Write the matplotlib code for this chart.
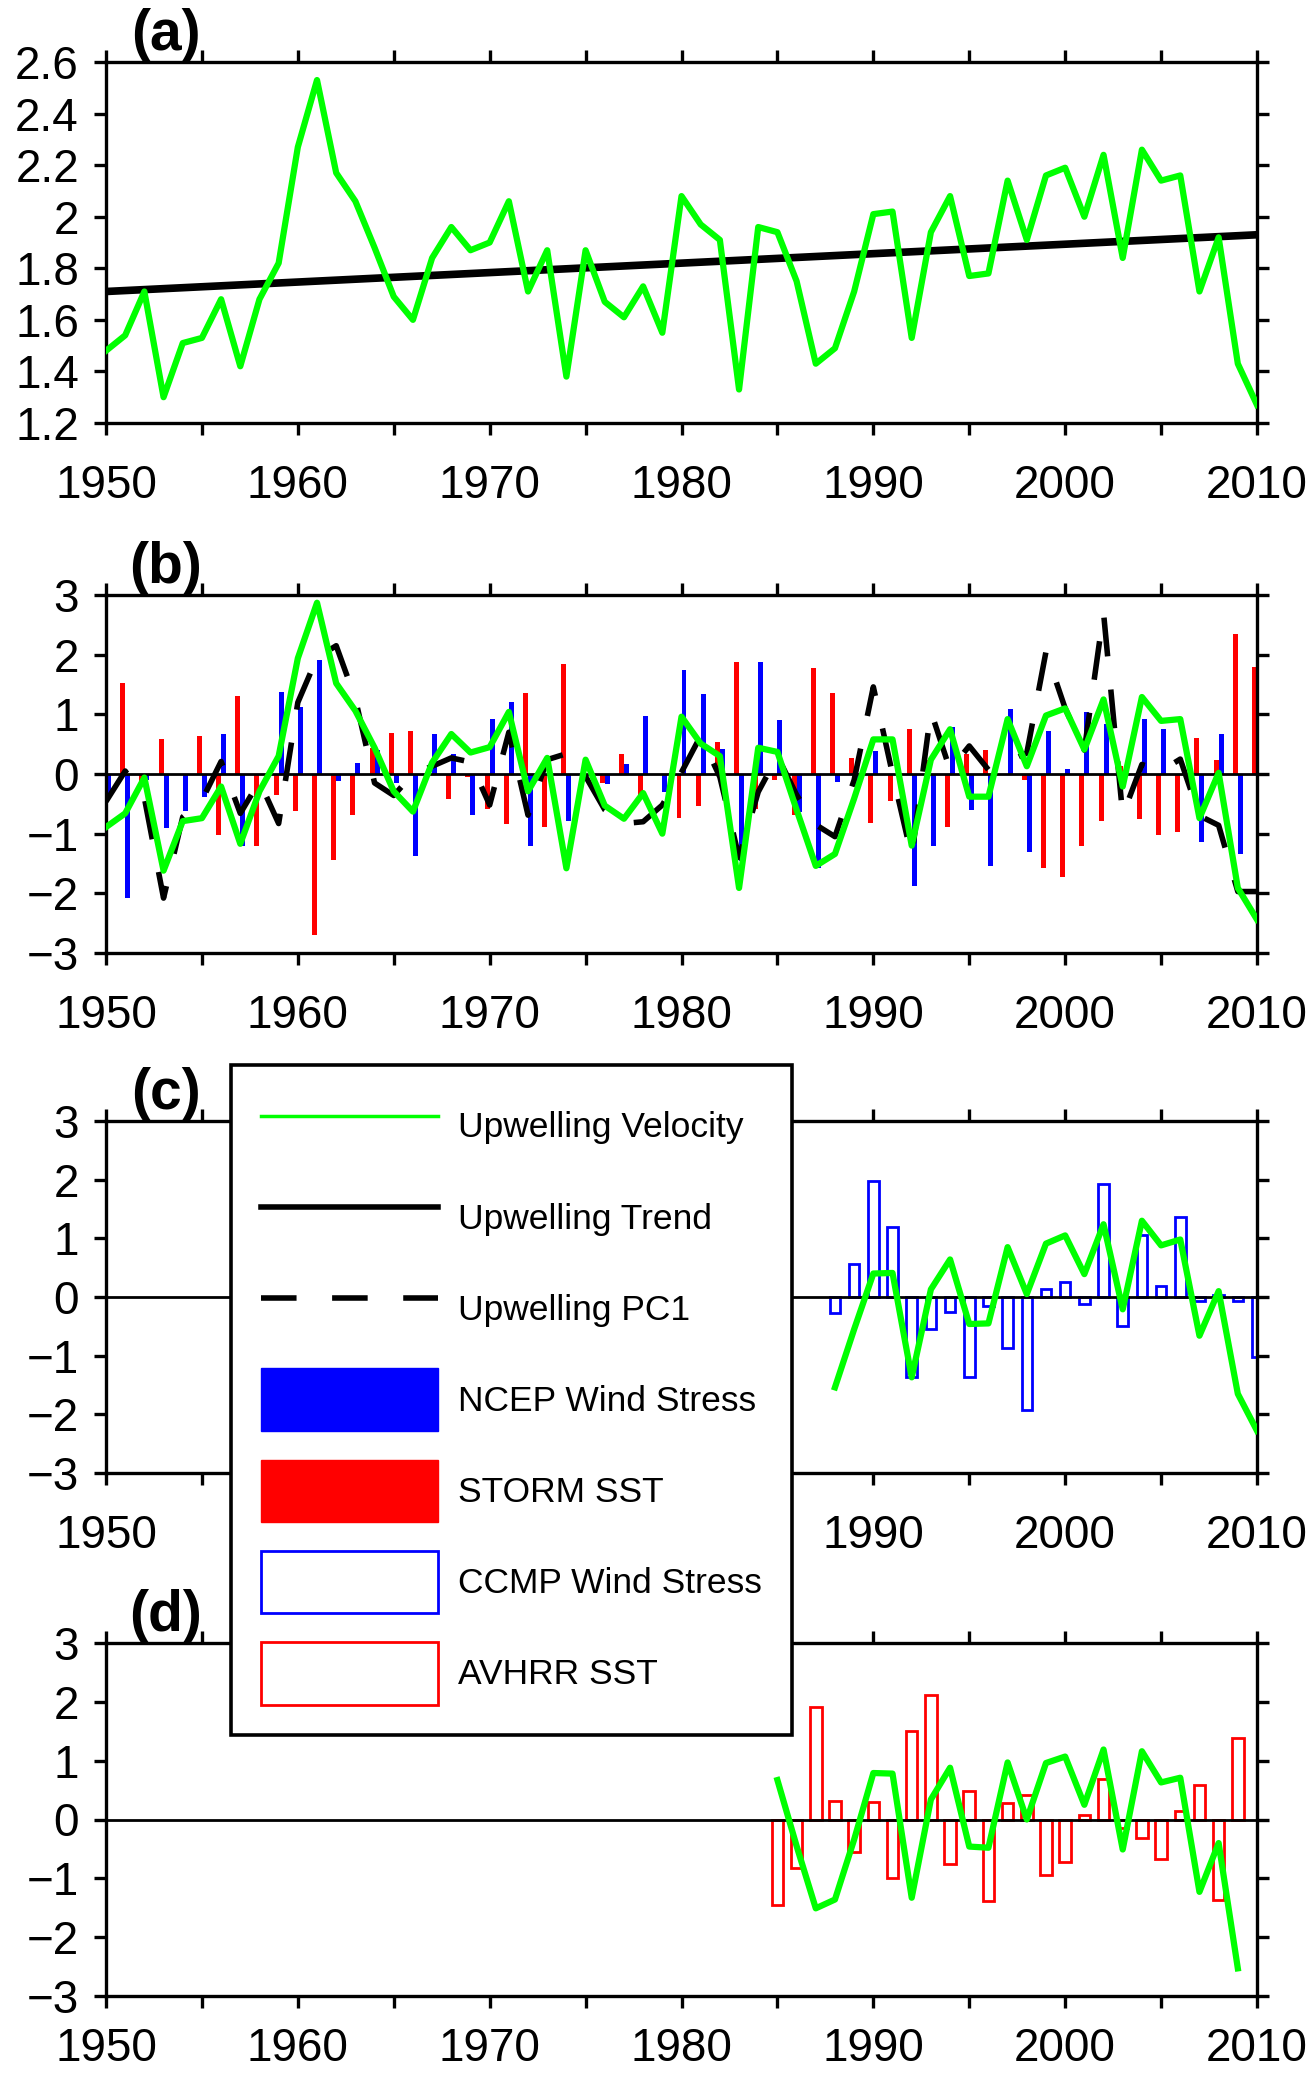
import numpy as np
import matplotlib
matplotlib.use("Agg")
import matplotlib.pyplot as plt
from matplotlib.lines import Line2D
from matplotlib.patches import Patch
from matplotlib.ticker import MultipleLocator, FormatStrFormatter, FuncFormatter

plt.rcParams["font.family"] = ["Liberation Sans", "DejaVu Sans"]

# ---- data ----
years = np.arange(1950, 2011)

# (a) upwelling velocity and its linear trend (end points)
upwelling = [1.48, 1.54, 1.71, 1.30, 1.51, 1.53, 1.68, 1.42, 1.68, 1.82,
             2.27, 2.53, 2.17, 2.06, 1.88, 1.69, 1.60, 1.84, 1.96, 1.87,
             1.90, 2.06, 1.71, 1.87, 1.38, 1.87, 1.67, 1.61, 1.73, 1.55,
             2.08, 1.97, 1.91, 1.33, 1.96, 1.94, 1.75, 1.43, 1.49, 1.71,
             2.01, 2.02, 1.53, 1.94, 2.08, 1.77, 1.78, 2.14, 1.91, 2.16,
             2.19, 2.00, 2.24, 1.84, 2.26, 2.14, 2.16, 1.71, 1.92, 1.43, 1.27]
trend_years = [1950, 2010]
trend_vals = [1.71, 1.93]

# (b) standardised series
upwelling_std = [-0.89, -0.66, -0.06, -1.62, -0.79, -0.74, -0.21, -1.17, -0.29, 0.30,
                 1.94, 2.87, 1.52, 1.06, 0.44, -0.29, -0.63, 0.19, 0.67, 0.36,
                 0.45, 1.04, -0.29, 0.27, -1.58, 0.24, -0.53, -0.75, -0.32, -1.00,
                 0.96, 0.51, 0.30, -1.91, 0.44, 0.37, -0.60, -1.54, -1.34, -0.41,
                 0.58, 0.58, -1.20, 0.24, 0.75, -0.38, -0.38, 0.92, 0.13, 0.98,
                 1.10, 0.41, 1.25, -0.21, 1.29, 0.89, 0.92, -0.74, 0.02, -1.91, -2.44]
pc1 = [-0.46, 0.05, -0.40, -2.08, -0.72, -0.44, 0.21, -0.66, -0.12, -0.83,
       1.20, 1.95, 2.15, 1.26, -0.15, -0.36, 0.00, 0.13, 0.27, 0.20,
       -0.52, 0.70, -0.69, 0.24, 0.34, -0.04, -0.60, -0.83, -0.80, -0.52,
       0.03, 0.64, -0.05, -1.40, -0.30, 0.30, -0.35, -0.85, -1.05, -0.10,
       1.46, 0.00, -1.38, 1.05, 0.07, 0.47, 0.07, 0.20, 0.35, 2.05,
       1.10, 0.40, 2.70, -0.69, 0.16, 0.05, 0.25, -0.70, -0.86, -1.97, -1.97]
ncep = [-0.35, -2.08, -0.10, -0.91, -0.62, -0.38, 0.67, -1.21, 0.00, 1.38,
        1.12, 1.91, -0.12, 0.19, 0.41, -0.15, -1.37, 0.67, 0.33, -0.69,
        0.92, 1.21, -1.20, 0.00, -0.78, 0.00, -0.17, 0.16, 0.98, -0.30,
        1.75, 1.34, 0.42, -1.45, 1.87, 0.91, -0.63, -1.57, -0.14, -0.20,
        0.38, 0.00, -1.88, -1.20, 0.79, -0.61, -1.55, 1.09, -1.30, 0.72,
        0.09, 1.04, 0.84, 0.00, 0.92, 0.75, 0.00, -1.14, 0.67, -1.34, -1.68]
storm = [1.10, 1.52, -0.20, 0.58, 0.00, 0.64, -1.02, 1.31, -1.21, -0.36,
         -0.62, -2.70, -1.44, -0.69, 0.44, 0.68, 0.72, 0.00, -0.42, -0.05,
         -0.58, -0.83, 1.36, -0.89, 1.84, 0.00, -0.15, 0.33, -0.35, 0.00,
         -0.74, -0.53, 0.53, 1.87, -0.58, -0.10, -0.69, 1.78, 1.36, 0.26,
         -0.82, -0.46, 0.76, 0.24, -0.89, 0.34, 0.40, 0.00, -0.10, -1.58,
         -1.73, -1.20, -0.79, 0.13, -0.75, -1.03, -0.98, 0.61, 0.23, 2.34, 1.80]

# (c) CCMP period
years_c = np.arange(1988, 2011)
ccmp = [-0.28, 0.56, 1.98, 1.19, -1.37, -0.55, -0.25, -1.36, -0.15, -0.87,
        -1.92, 0.13, 0.26, -0.12, 1.93, -0.49, 1.05, 0.19, 1.36, -0.06,
        0.03, -0.06, -1.03]
upwelling_c = [-1.54, -0.55, 0.40, 0.41, -1.37, 0.13, 0.64, -0.46, -0.45, 0.85,
               0.05, 0.91, 1.05, 0.39, 1.24, -0.21, 1.30, 0.88, 0.98, -0.66,
               0.10, -1.65, -2.28]

# (d) AVHRR period
years_d = np.arange(1985, 2010)
avhrr = [-1.46, -0.82, 1.91, 0.31, -0.56, 0.29, -0.99, 1.51, 2.12, -0.75,
         0.48, -1.38, 0.28, 0.42, -0.95, -0.73, 0.07, 0.69, -0.15, -0.31,
         -0.67, 0.14, 0.58, -1.36, 1.38]
upwelling_d = [0.67, -0.45, -1.51, -1.36, -0.34, 0.79, 0.78, -1.33, 0.34, 0.88,
               -0.46, -0.48, 0.97, 0.00, 0.96, 1.07, 0.25, 1.19, -0.51, 1.16,
               0.63, 0.71, -1.23, -0.40, -2.53]

GREEN = "#00ff00"
BLUE = "#0000ff"
RED = "#ff0000"

W, H = 1314, 2075
fig = plt.figure(figsize=(W / 100, H / 100), dpi=100)


def add_panel(top, bottom):
    return fig.add_axes([106 / W, 1 - bottom / H, (1257 - 106) / W, (bottom - top) / H])


def style(ax, label, xpad=21):
    ax.set_xlim(1950, 2010)
    ax.xaxis.set_major_locator(MultipleLocator(10))
    ax.xaxis.set_minor_locator(MultipleLocator(5))
    ax.tick_params(which="both", direction="out", length=8.5, width=2.4,
                   top=True, right=True, labelsize=33)
    ax.tick_params(axis="x", which="both", pad=xpad)
    ax.tick_params(axis="y", pad=11)
    for s in ax.spines.values():
        s.set_linewidth(2.4)
    ax.text(0.052, 1.0, label, transform=ax.transAxes, ha="center", va="bottom",
            fontsize=41, fontweight="bold")


def style_std(ax):
    ax.set_ylim(-3, 3)
    ax.yaxis.set_major_locator(MultipleLocator(1))
    ax.axhline(0, color="black", lw=2.0, zorder=3)


# (a)
ax_a = add_panel(62, 423)
ax_a.plot(trend_years, trend_vals, color="black", lw=5.5, zorder=3)
ax_a.plot(years, upwelling, color=GREEN, lw=4.5, zorder=4)
ax_a.set_ylim(1.2, 2.6)
ax_a.yaxis.set_major_locator(MultipleLocator(0.2))
ax_a.yaxis.set_major_formatter(FormatStrFormatter("%g"))
style(ax_a, "(a)")

# (b)
ax_b = add_panel(595, 953)
ax_b.bar(years - 0.13, storm, width=0.26, color=RED, zorder=2)
ax_b.bar(years + 0.13, ncep, width=0.26, color=BLUE, zorder=2)
style_std(ax_b)
ax_b.plot(years, pc1, color="black", lw=4, dashes=(7, 6), zorder=4)
ax_b.plot(years, upwelling_std, color=GREEN, lw=4.5, zorder=5)
style(ax_b, "(b)")

# (c)
ax_c = add_panel(1121, 1473)
ax_c.bar(years_c, ccmp, width=0.55, facecolor="none", edgecolor=BLUE, lw=2, zorder=2)
style_std(ax_c)
ax_c.plot(years_c, upwelling_c, color=GREEN, lw=4.5, zorder=5)
style(ax_c, "(c)")
# the legend box hides the middle year labels of this panel
ax_c.xaxis.set_major_formatter(
    FuncFormatter(lambda v, pos: "" if 1955 < v < 1985 else f"{v:.0f}"))

# (d)
ax_d = add_panel(1643, 1996)
ax_d.bar(years_d, avhrr, width=0.6, facecolor="none", edgecolor=RED, lw=2, zorder=2)
style_std(ax_d)
ax_d.plot(years_d, upwelling_d, color=GREEN, lw=4.5, zorder=5)
style(ax_d, "(d)", xpad=14)

handles = [
    Line2D([], [], color=GREEN, lw=2.5),
    Line2D([], [], color="black", lw=4),
    Line2D([], [], color="black", lw=4, dashes=(6.4, 6.4)),
    Patch(facecolor=BLUE, edgecolor=BLUE),
    Patch(facecolor=RED, edgecolor=RED),
    Patch(facecolor="white", edgecolor=BLUE, lw=2),
    Patch(facecolor="white", edgecolor=RED, lw=2),
]
labels = ["Upwelling Velocity", "Upwelling Trend", "Upwelling PC1",
          "NCEP Wind Stress", "STORM SST", "CCMP Wind Stress", "AVHRR SST"]
leg = fig.legend(handles, labels, loc="upper left",
                 bbox_to_anchor=(231 / W, 1 - 1065 / H), bbox_transform=fig.transFigure,
                 fontsize=25.5, handlelength=5.0, handleheight=2.35, labelspacing=0.8,
                 handletextpad=0.56, borderpad=0.85, borderaxespad=0,
                 fancybox=False, framealpha=1, edgecolor="black")
leg.get_frame().set_linewidth(2.6)

fig.savefig("out.png", dpi=100)
